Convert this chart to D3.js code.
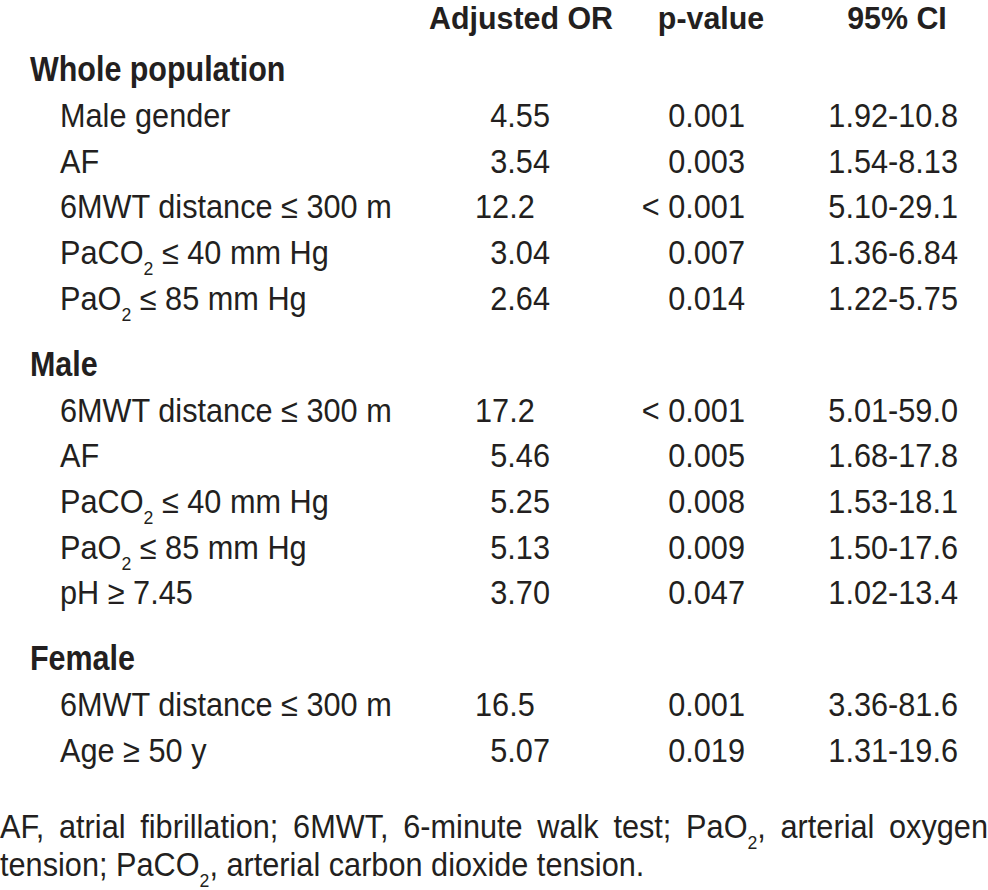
<!DOCTYPE html>
<html>
<head>
<meta charset="utf-8">
<script src="https://cdn.jsdelivr.net/npm/d3@7/dist/d3.min.js"></script>
<style>
  html, body { margin: 0; padding: 0; background: #fff; }
  svg { display: block; }
</style>
</head>
<body>
<svg id="chart" width="988" height="890"></svg>
<script>
// ---------------- data ----------------
const columnHeaders = ["Adjusted OR", "p-value", "95% CI"];
const groups = ["Whole population", "Male", "Female"];
const rowGroup = [0, 0, 0, 0, 0, 1, 1, 1, 1, 1, 2, 2];
const rowLabels = [
  "Male gender", "AF", "6MWT distance ≤ 300 m", "PaCO_2 ≤ 40 mm Hg", "PaO_2 ≤ 85 mm Hg",
  "6MWT distance ≤ 300 m", "AF", "PaCO_2 ≤ 40 mm Hg", "PaO_2 ≤ 85 mm Hg", "pH ≥ 7.45",
  "6MWT distance ≤ 300 m", "Age ≥ 50 y"
];
const adjustedOR = [4.55, 3.54, 12.2, 3.04, 2.64, 17.2, 5.46, 5.25, 5.13, 3.70, 16.5, 5.07];
const pValues = ["0.001", "0.003", "< 0.001", "0.007", "0.014", "< 0.001", "0.005", "0.008", "0.009", "0.047", "0.001", "0.019"];
const ciLow  = [1.92, 1.54, 5.10, 1.36, 1.22, 5.01, 1.68, 1.53, 1.50, 1.02, 3.36, 1.31];
const ciHigh = [10.8, 8.13, 29.1, 6.84, 5.75, 59.0, 17.8, 18.1, 17.6, 13.4, 81.6, 19.6];
const footnoteLines = [
  "AF, atrial fibrillation; 6MWT, 6-minute walk test; PaO_2, arterial oxygen",
  "tension; PaCO_2, arterial carbon dioxide tension."
];

// ---------------- layout ----------------
const W = 988, H = 890;
const ink = "#231f20";
const FONT = "'Liberation Sans', Arial, sans-serif";
const regSize = 33, regScale = 0.93;
const boldSize = 35, boldScale = 0.87;
const headSize = 31, headScale = 0.98;
const subSize = 19, subDrop = 11;

const svg = d3.select("#chart");
svg.append("rect").attr("width", W).attr("height", H).attr("fill", "#fff");

// build slot positions (groups + rows) in "row units"
const items = [];
let slot = 0;
groups.forEach((g, gi) => {
  if (gi > 0) slot += 1.45;
  items.push({ type: "group", text: g, slot });
  rowGroup.forEach((rg, i) => {
    if (rg === gi) { slot += (items[items.length - 1].type === "group" ? 1.01 : 1); items.push({ type: "row", i, slot }); }
  });
});
const y = d3.scaleLinear().domain([0, items[items.length - 1].slot]).range([81, 762]);

const colX = d3.scaleOrdinal().domain(["group", "label", ...columnHeaders]).range([30, 60, 550, 745, 958]);
const headX = d3.scaleOrdinal().domain(columnHeaders).range([521, 711, 897]);

const fmt3 = d3.format(".3r");

function addText(parent, x, yy, str, opts) {
  const size = opts.size || (opts.bold ? boldSize : regSize);
  const sx = opts.scale || (opts.bold ? boldScale : regScale);
  const t = parent.append("text")
    .attr("transform", `translate(${x},${yy}) scale(${sx},1)`)
    .attr("font-family", FONT)
    .attr("font-size", size)
    .attr("font-weight", opts.bold ? "bold" : "normal")
    .attr("fill", ink)
    .attr("text-anchor", opts.anchor || "start");
  const parts = str.split(/_(\d)/);
  let dropped = false;
  parts.forEach((p, k) => {
    if (p === "") return;
    const isSub = k % 2 === 1;
    const ts = t.append("tspan").text(p);
    if (isSub) { ts.attr("font-size", subSize).attr("dy", subDrop); dropped = true; }
    else if (dropped) { ts.attr("dy", -subDrop); dropped = false; }
  });
  return t;
}

// column headers
columnHeaders.forEach(h => addText(svg, headX(h), 29, h, { bold: true, anchor: "middle", size: headSize, scale: headScale }));

// body
items.forEach(it => {
  const yy = y(it.slot);
  if (it.type === "group") {
    addText(svg, colX("group"), yy, it.text, { bold: true });
  } else {
    const i = it.i;
    addText(svg, colX("label"), yy, rowLabels[i], {});
    const or = adjustedOR[i];
    if (or >= 10) addText(svg, colX("Adjusted OR") - 75, yy, fmt3(or), { anchor: "start" });
    else addText(svg, colX("Adjusted OR"), yy, fmt3(or), { anchor: "end" });
    addText(svg, colX("p-value"), yy, pValues[i], { anchor: "end" });
    addText(svg, colX("95% CI"), yy, fmt3(ciLow[i]) + "-" + fmt3(ciHigh[i]), { anchor: "end" });
  }
});

// footnote (first line justified)
const footY = [838, 876];
footnoteLines.forEach((line, li) => {
  const words = line.split(" ");
  if (li === footnoteLines.length - 1) {
    addText(svg, 0, footY[li], line, {});
    return;
  }
  const nodes = words.map(w => addText(svg, 0, footY[li], w, {}));
  const widths = nodes.map(n => n.node().getComputedTextLength() * regScale);
  const gap = (W - d3.sum(widths)) / (words.length - 1);
  let x = 0;
  nodes.forEach((n, k) => {
    n.attr("transform", `translate(${x},${footY[li]}) scale(${regScale},1)`);
    x += widths[k] + gap;
  });
});
</script>
</body>
</html>
